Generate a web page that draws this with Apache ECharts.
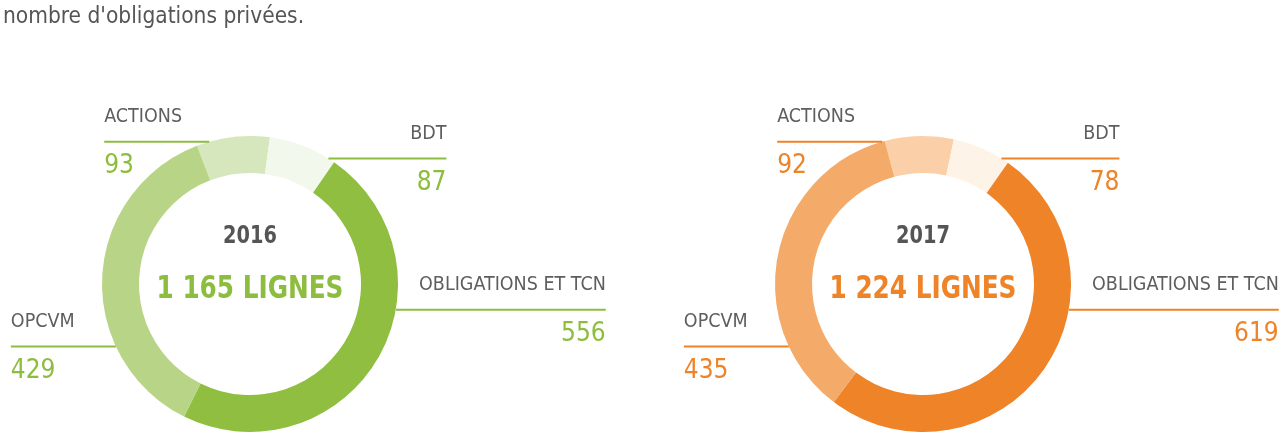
<!DOCTYPE html>
<html>
<head>
<meta charset="utf-8">
<script src="https://cdn.jsdelivr.net/npm/echarts@6/dist/echarts.min.js"></script>
<style>
html, body { margin: 0; padding: 0; background: #fff; }
#chart { width: 1279px; height: 433px; }
</style>
</head>
<body>
<div id="chart"></div>
<script>
const categories = ['ACTIONS', 'BDT', 'OBLIGATIONS ET TCN', 'OPCVM'];
const years = ['2016', '2017'];
const values2016 = [93, 87, 556, 429];
const values2017 = [92, 78, 619, 435];
const introText = "nombre d'obligations privées.";

const greens = ['#d6e7bd', '#f3f8ec', '#8fbe40', '#b8d486'];
const oranges = ['#fbd0a8', '#fef3e7', '#ee8328', '#f4aa68'];

const FONT = '"Liberation Sans Narrow", "DejaVu Sans Condensed", sans-serif';
const R_IN = 111, R_OUT = 148;
// where each callout line meets the ring (deg clockwise from 12 o'clock) and how far it runs
const calloutAngle = [-16, 32, 100, 245];
const calloutLength = [105, 118, 210, 105];

const pies = [
    { year: years[0], values: values2016, colors: greens, accent: '#8dbd3f', center: [250, 284], startAngle: 111 },
    { year: years[1], values: values2017, colors: oranges, accent: '#ee8328', center: [923, 284], startAngle: 105 }
];

function fmt(n) {
    return String(n).replace(/\B(?=(\d{3})+(?!\d))/g, ' ');
}

function itemLabel(i, accent) {
    const side = Math.sin(calloutAngle[i] * Math.PI / 180) < 0 ? 'left' : 'right';
    return {
        show: true,
        position: 'outside',
        formatter: '{n|{b}}\n{hr|}\n{v|{c}}',
        rich: {
            n: { fontFamily: FONT, fontSize: 19.5, color: '#5e5e5e', lineHeight: 50, align: side },
            hr: { width: calloutLength[i], height: 0, borderColor: accent, borderWidth: 2, align: side },
            v: { fontFamily: FONT, fontSize: 26, color: accent, lineHeight: 50, align: side }
        }
    };
}

let chart = echarts.init(document.getElementById('chart'))

let series = pies.map(pie => ({
    type: 'pie',
    center: pie.center,
    radius: [R_IN, R_OUT],
    startAngle: pie.startAngle,
    clockwise: true,
    avoidLabelOverlap: false,
    silent: true,
    labelLine: { show: false },
    labelLayout: (p) => {
        const a = calloutAngle[p.dataIndex] * Math.PI / 180
        return {
            x: pie.center[0] + R_OUT * Math.sin(a),
            y: pie.center[1] - R_OUT * Math.cos(a),
            align: Math.sin(a) < 0 ? 'right' : 'left',
            verticalAlign: 'middle'
        }
    },
    data: categories.map((name, i) => ({
        name: name,
        value: pie.values[i],
        itemStyle: { color: pie.colors[i] },
        label: itemLabel(i, pie.accent)
    }))
}))

let graphic = [{
    type: 'text', x: 3, y: 17,
    style: { text: introText, font: '22.5px ' + FONT, fill: '#555', textVerticalAlign: 'middle' }
}]
pies.forEach(pie => {
    const total = pie.values.reduce((s, v) => s + v, 0)
    // condensed look for the centre captions
    graphic.push({
        type: 'text', x: pie.center[0], y: pie.center[1] - 48, scaleX: 0.86,
        style: { text: pie.year, font: 'bold 25px ' + FONT, fill: '#555', textAlign: 'center', textVerticalAlign: 'middle' }
    })
    graphic.push({
        type: 'text', x: pie.center[0], y: pie.center[1] + 6, scaleX: 0.86,
        style: { text: fmt(total) + ' LIGNES', font: 'bold 32px ' + FONT, fill: pie.accent, textAlign: 'center', textVerticalAlign: 'middle' }
    })
})

chart.setOption({
    animation: false,
    backgroundColor: '#fff',
    graphic: graphic,
    series: series
})
</script>
</body>
</html>
